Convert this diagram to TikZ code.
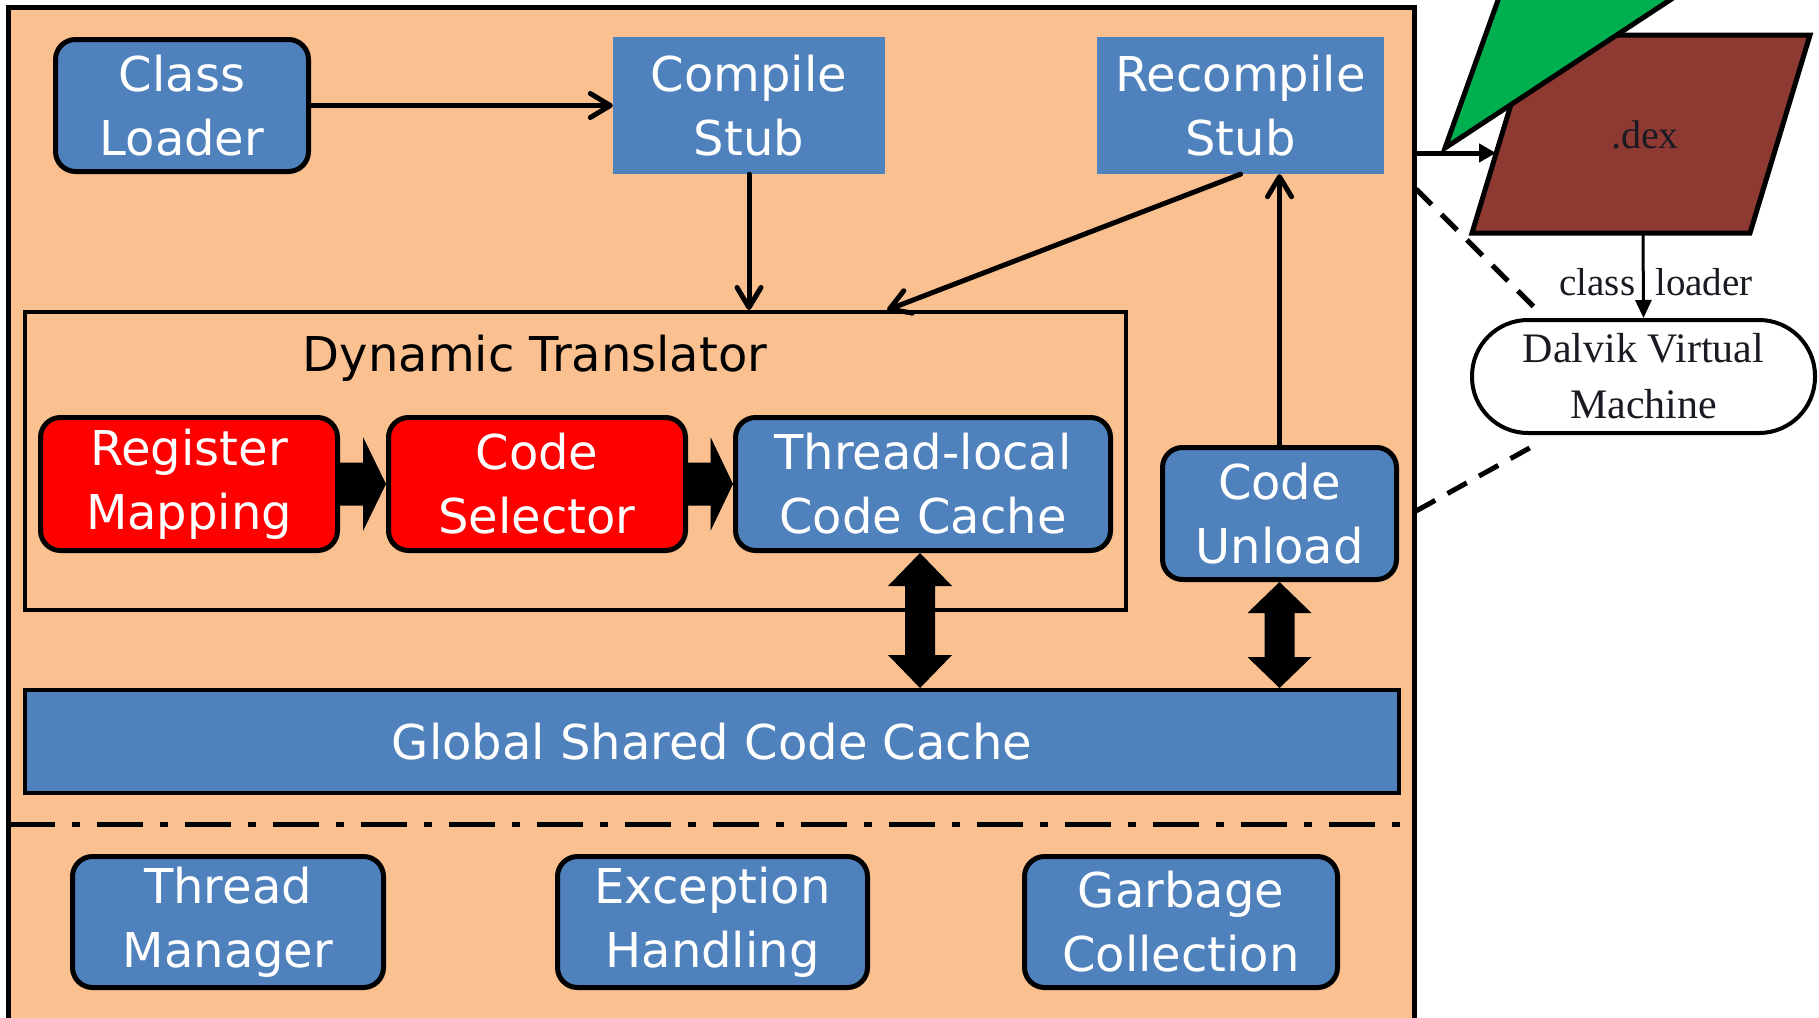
\documentclass[tikz,border=0pt]{standalone}
\usepackage{fontspec}
\newfontfamily\boxfont{DejaVu Sans}
\newfontfamily\serifx{Liberation Serif}
\usetikzlibrary{arrows.meta,calc}
\definecolor{peach}{HTML}{FAC090}
\definecolor{boxblue}{HTML}{4F81BD}
\definecolor{boxred}{HTML}{FF0000}
\definecolor{trigreen}{HTML}{00B050}
\definecolor{dexred}{HTML}{8E3A33}
\definecolor{inkdark}{HTML}{1A1A22}
\newcommand\bxf{\boxfont\fontsize{48}{64}\selectfont}
\newcommand\srf{\serifx\fontsize{42}{56}\selectfont}
\tikzset{
  blk/.style={draw=black, line width=5pt, rounded corners=20pt, fill=boxblue,
    text=white, font=\bxf, align=center, inner sep=0pt},
  redblk/.style={blk, fill=boxred},
  stubbox/.style={fill=boxblue, text=white, font=\bxf, align=center, inner sep=0pt},
  conn/.style={line width=5pt, line cap=round, -{Straight Barb[length=20pt,width=24pt,round]}},
  blockarrow/.style={fill=black},
  zoomline/.style={line width=5pt, dash pattern=on 22pt off 14pt},
}
\begin{document}
\begin{tikzpicture}[x=1pt,y=-1pt]
\clip (0,0) rectangle (1819,1017);
\fill[white] (0,0) rectangle (1819,1017);

% outer frame
\draw[line width=5pt, fill=peach] (8,7) rectangle (1414.5,1045);

% top row
\node[blk, minimum width=253pt, minimum height=132pt] (classloader) at (182,105.5) {Class\\Loader};
\node[stubbox, minimum width=272pt, minimum height=137pt] (compile) at (749,105.5) {Compile\\Stub};
\node[stubbox, minimum width=287pt, minimum height=137pt] (recompile) at (1240.5,105.5) {Recompile\\Stub};

% dynamic translator frame
\node[draw=black, line width=4pt, minimum width=1101pt, minimum height=298pt, inner sep=0pt] (dyn) at (575.5,461) {};
\node[font=\bxf, text=black, anchor=base] (dynlabel) at (535,371) {Dynamic Translator};

\node[redblk, minimum width=297pt, minimum height=133pt] (regmap) at (189,484) {Register\\Mapping};
\node[redblk, minimum width=297pt, minimum height=133pt] (codesel) at (537,484) {Code\\Selector};
\node[blk, minimum width=375pt, minimum height=133pt] (threadlocal) at (923,484) {Thread-local\\Code Cache};

\node[blk, minimum width=234pt, minimum height=132pt] (codeunload) at (1279.5,513.5) {Code\\Unload};

\node[draw=black, line width=4pt, fill=boxblue, text=white, font=\bxf, inner sep=0pt,
      minimum width=1374pt, minimum height=103pt] (global) at (712,741.5) {Global Shared Code Cache};

% separator
\draw[line width=5pt, dash pattern=on 46pt off 17pt on 8pt off 17pt] (9,824) -- (1412,824);

% bottom row
\node[blk, minimum width=311pt, minimum height=131pt] (threadmgr) at (228,922) {Thread\\Manager};
\node[blk, minimum width=310pt, minimum height=131pt] (exception) at (712.5,922) {Exception\\Handling};
\node[blk, minimum width=313pt, minimum height=131pt] (garbage) at (1181,922) {Garbage\\Collection};

% thin connectors
\coordinate (dyntop) at ($(dyn.north west)!0.782!(dyn.north east)$);
\draw[conn] (classloader.east) -- (compile.west);
\draw[conn] (compile.south) -- (compile.south |- dyn.north);
\draw[conn] (recompile.south) -- (dyntop);
\draw[conn] (codeunload.north) -- (codeunload.north |- recompile.south);

% block arrows between translator stages
\path (regmap.east) -- (codesel.west) coordinate[pos=0.5] (m1);
\fill[blockarrow] ($(regmap.east)+(0,-21.5)$) -- ($(m1)+(0,-21.5)$) -- ($(m1)+(0,-47)$)
  -- (codesel.west) -- ($(m1)+(0,47)$) -- ($(m1)+(0,21.5)$) -- ($(regmap.east)+(0,21.5)$) -- cycle;
\path (codesel.east) -- (threadlocal.west) coordinate[pos=0.5] (m2);
\fill[blockarrow] ($(codesel.east)+(0,-21.5)$) -- ($(m2)+(0,-21.5)$) -- ($(m2)+(0,-47)$)
  -- (threadlocal.west) -- ($(m2)+(0,47)$) -- ($(m2)+(0,21.5)$) -- ($(codesel.east)+(0,21.5)$) -- cycle;

% double vertical block arrows
\coordinate (d1t) at ($(threadlocal.south)+(-3,0)$);
\coordinate (d1b) at (d1t |- global.north);
\fill[blockarrow] (d1t) -- ++(32,33) -- ++(-17,0) -- ($(d1b)+(15,-33)$) -- ++(17,0) -- (d1b)
  -- ++(-32,-33) -- ++(17,0) -- ($(d1t)+(-15,33)$) -- ++(-17,0) -- cycle;
\coordinate (d2t) at (codeunload.south);
\coordinate (d2b) at (d2t |- global.north);
\fill[blockarrow] (d2t) -- ++(32,31) -- ++(-17,0) -- ($(d2b)+(15,-31)$) -- ++(17,0) -- (d2b)
  -- ++(-32,-31) -- ++(17,0) -- ($(d2t)+(-15,31)$) -- ++(-17,0) -- cycle;

% right side: .dex parallelogram
\draw[line width=5pt, fill=dexred, line join=miter] (1532,35) -- (1810,35) -- (1750,233) -- (1472,233) -- cycle;
\node[font=\serifx\fontsize{40}{48}\selectfont, text=inkdark, anchor=base] (dex) at (1645,148) {.dex};
\coordinate (dexleft) at (1496,153);
\coordinate (dexbot) at (1643,233);
\coordinate (frameout) at (1417,153);

% green triangle
\draw[line width=5pt, fill=trigreen, line join=miter] (1445,148) -- (1516,-50) -- (1746,-50) -- cycle;

\draw[line width=5pt, -{Triangle[length=17pt,width=18pt]}] (frameout) -- (dexleft);

% Dalvik VM
\node[draw=black, line width=4pt, rounded corners=56pt, fill=white, minimum width=343pt,
      minimum height=113pt, inner sep=0pt, font=\srf, text=inkdark, align=center] (dalvik) at (1643.5,376.5) {Dalvik Virtual\\Machine};
\draw[line width=3pt, -{Triangle[length=18pt,width=16pt]}] (dexbot) -- (dalvik.north);
\node[font=\serifx\fontsize{39}{46}\selectfont, text=inkdark, anchor=base] (cllabel) at (1656,295) {class\hspace{20pt}loader};

% zoom indicator dashed lines
\coordinate (za1) at (1416,189);
\coordinate (za2) at (1535,308);
\coordinate (zb1) at (1416,511);
\coordinate (zb2) at (1535,445);
\draw[zoomline] (za1) -- (za2);
\draw[zoomline] (zb1) -- (zb2);
\end{tikzpicture}
\end{document}
